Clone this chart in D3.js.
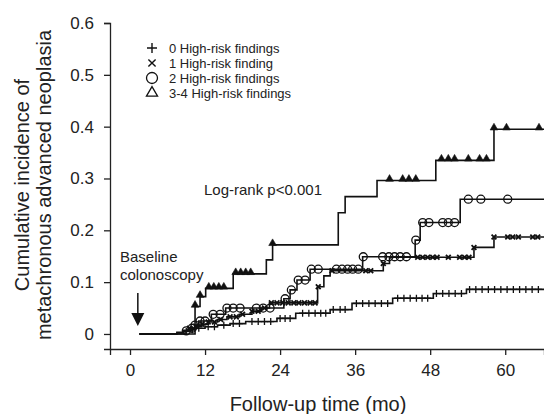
<!DOCTYPE html>
<html>
  <head>
    <meta charset="utf-8" />
    <script src="https://d3js.org/d3.v7.min.js"></script>
    <style>
      body { margin: 0; background: #fff; }
      svg text { font-family: "Liberation Sans", Arial, sans-serif; fill: #222; }
      .axis path, .axis line { stroke: #222; stroke-width: 1.3px; }
      .curve { fill: none; stroke: #111; stroke-width: 1.6px; }
    </style>
  </head>
  <body>
    <svg id="chart" width="544" height="414"></svg>
    <script>
      // step points [month, cumulative incidence]
      var steps0 = [[1.5,0],[7.5,0.002],[8.5,0.005],[9.5,0.008],[10.5,0.011],[12,0.014],[14,0.017],[16,0.020],[18.5,0.024],[23.5,0.030],[26.5,0.040],[32,0.047],[35.5,0.059],[42,0.069],[48.5,0.078],[53.8,0.086]];
      var steps1 = [[1.5,0],[7.5,0.003],[8.5,0.007],[9.5,0.011],[10.5,0.015],[11.5,0.019],[12.5,0.023],[14,0.028],[15.5,0.033],[17.5,0.038],[19.5,0.044],[21,0.050],[22.3,0.060],[30,0.091],[31,0.112],[32,0.122],[40.5,0.136],[41.5,0.148],[55,0.167],[58.2,0.187]];
      var steps2 = [[1.5,0],[8.8,0.006],[9.8,0.011],[10.4,0.017],[11,0.025],[13,0.038],[15.3,0.050],[24.6,0.068],[25.6,0.085],[26.7,0.104],[28.8,0.125],[37.2,0.149],[45.6,0.181],[46.4,0.215],[52.8,0.260]];
      var steps3 = [[1.5,0],[10.4,0.053],[11.2,0.072],[12.1,0.088],[16.5,0.116],[21.8,0.143],[22.8,0.172],[33.3,0.234],[34.4,0.265],[39.5,0.296],[48.9,0.335],[58.2,0.395]];

      // censor mark times (months)
      var marks0 = [9,10,11,12.5,13.5,15,16.5,17.5,19.5,20.5,21.5,22.5,24,24.8,25.6,27.6,28.6,29.6,30.5,31.3,32.5,33.6,34.4,36.2,37.2,38.2,39.2,40.2,41.2,42.8,43.8,44.8,45.8,46.7,47.6,49,50,51,52,53,54.3,55.3,56.3,57.3,58.3,59.3,60.3,61.3,62.3,63.3,64.3,65.3];
      var marks1 = [9.5,10.5,11.5,12.5,13.5,14.5,16,17,18,19.5,20.5,21.5,22.6,23.5,24.4,25.3,26.2,27,27.9,28.8,29.6,30.1,32.3,37.7,38.5,40.5,46,46.8,47.6,48.4,49.1,50.9,52.7,53.5,54.2,55,58.2,60.4,61.2,62.1,64.4,65.2];
      var marks2 = [9,9.9,10.4,11.2,12,13.3,14.4,15.5,16.5,17.6,20.2,21.3,22.4,24.8,25.8,26.9,28,29,30.1,33,33.9,34.8,35.6,36.5,37.3,40.4,41.4,42.3,43.2,44.2,45.7,46.8,47.8,50,50.9,51.9,54.1,56.1,60.4];
      var marks3 = [10.4,11.2,12.6,13.4,14.2,15,16.9,17.7,18.5,19.3,22.8,41.5,43.6,44.6,45.7,49.8,50.9,51.9,54.1,55.9,57,58.2,60.2,65.4];

      var legendLabels = ["0 High-risk findings", "1 High-risk finding", "2 High-risk findings", "3-4 High-risk findings"];
      var xTicks = [0, 12, 24, 36, 48, 60];
      var yTicks = [0, 0.1, 0.2, 0.3, 0.4, 0.5, 0.6];

      var svg = d3.select("#chart");

      var x = d3.scaleLinear().domain([-3.2, 66.2]).range([110, 544]);
      var y = d3.scaleLinear().domain([-0.029, 0.6]).range([349, 23]);

      // axes
      svg.append("g")
        .attr("class", "axis")
        .attr("transform", "translate(110,0)")
        .call(d3.axisLeft(y).tickValues(yTicks).tickSizeOuter(0).tickSize(6).tickPadding(10)
          .tickFormat(function(d) { return d === 0 ? "0" : d3.format(".1f")(d); }))
        .selectAll("text").attr("font-size", 17).style("font-family", "Liberation Sans, Arial, sans-serif");

      svg.append("g")
        .attr("class", "axis")
        .attr("transform", "translate(0,349)")
        .call(d3.axisBottom(x).tickValues(xTicks).tickSizeOuter(0).tickSize(6).tickPadding(9))
        .selectAll("text").attr("font-size", 17).style("font-family", "Liberation Sans, Arial, sans-serif");

      svg.selectAll(".axis .domain").attr("stroke-width", 1.5);

      // axis titles
      svg.append("text")
        .attr("x", 318).attr("y", 411)
        .attr("text-anchor", "middle")
        .attr("font-size", 20)
        .text("Follow-up time (mo)");

      var yTitle = svg.append("text")
        .attr("transform", "translate(29,185) rotate(-90)")
        .attr("text-anchor", "middle")
        .attr("font-size", 20);
      yTitle.append("tspan").attr("x", 0).attr("dy", 0).text("Cumulative incidence of");
      yTitle.append("tspan").attr("x", 0).attr("dy", 22).text("metachronous advanced neoplasia");

      // curves
      var line = d3.line()
        .x(function(d) { return x(d[0]); })
        .y(function(d) { return y(d[1]); })
        .curve(d3.curveStepAfter);

      function valueAt(steps, t) {
        var v = 0;
        steps.forEach(function(s) { if (s[0] <= t) v = s[1]; });
        return v;
      }

      var groups = [
        { steps: steps0, marks: marks0, shape: "plus" },
        { steps: steps1, marks: marks1, shape: "cross" },
        { steps: steps2, marks: marks2, shape: "circle" },
        { steps: steps3, marks: marks3, shape: "triangle" }
      ];

      var xEnd = x.domain()[1];

      function drawMark(g, shape, cx, cy, size, legend) {
        if (shape === "plus") {
          g.append("path")
            .attr("d", "M" + (cx - size) + "," + cy + "H" + (cx + size) + "M" + cx + "," + (cy - size) + "V" + (cy + size))
            .attr("stroke", "#111").attr("stroke-width", legend ? 1.4 : 1.3);
        } else if (shape === "cross") {
          g.append("path")
            .attr("d", "M" + (cx - size) + "," + (cy - size) + "L" + (cx + size) + "," + (cy + size) +
                       "M" + (cx - size) + "," + (cy + size) + "L" + (cx + size) + "," + (cy - size))
            .attr("stroke", "#111").attr("stroke-width", legend ? 1.4 : 1.8);
        } else if (shape === "circle") {
          g.append("circle")
            .attr("cx", cx).attr("cy", cy).attr("r", size)
            .attr("fill", "none").attr("stroke", "#111").attr("stroke-width", 1.3);
        } else {
          g.append("path")
            .attr("d", d3.symbol().type(d3.symbolTriangle).size(size * size * 1.6)())
            .attr("transform", "translate(" + cx + "," + (cy - (legend ? 0 : 1.5)) + ")")
            .attr("fill", legend ? "none" : "#111")
            .attr("stroke", "#111").attr("stroke-width", legend ? 1.3 : 0.6);
        }
      }

      var markSize = { plus: 3.5, cross: 2.4, circle: 4, triangle: 4 };

      groups.forEach(function(grp) {
        var pts = grp.steps.concat([[xEnd, grp.steps[grp.steps.length - 1][1]]]);
        svg.append("path").datum(pts).attr("class", "curve").attr("d", line);
        var g = svg.append("g");
        grp.marks.forEach(function(t) {
          drawMark(g, grp.shape, x(t), y(valueAt(grp.steps, t)), markSize[grp.shape], false);
        });
      });

      // legend
      var legendShapes = ["plus", "cross", "circle", "triangle"];
      var legendSize = { plus: 5, cross: 3.6, circle: 5.5, triangle: 5.8 };
      var legend = svg.append("g");
      legendLabels.forEach(function(label, i) {
        var ly = 48 + i * 15;
        drawMark(legend, legendShapes[i], 152, ly, legendSize[legendShapes[i]], true);
        legend.append("text")
          .attr("x", 169).attr("y", ly)
          .attr("dy", "0.36em")
          .attr("font-size", 13)
          .text(label);
      });

      // annotations
      svg.append("text")
        .attr("x", 204).attr("y", 195)
        .attr("font-size", 15)
        .text("Log-rank p<0.001");

      var base = svg.append("text").attr("font-size", 15);
      base.append("tspan").attr("x", 120).attr("y", 262).text("Baseline");
      base.append("tspan").attr("x", 120).attr("y", 280).text("colonoscopy");

      var ax = x(1.25);
      svg.append("line")
        .attr("x1", ax).attr("x2", ax).attr("y1", 293).attr("y2", 314)
        .attr("stroke", "#111").attr("stroke-width", 1.5);
      svg.append("path")
        .attr("d", "M" + (ax - 6.5) + ",313L" + (ax + 6.5) + ",313L" + ax + ",326Z")
        .attr("fill", "#111");
    </script>
  </body>
</html>
